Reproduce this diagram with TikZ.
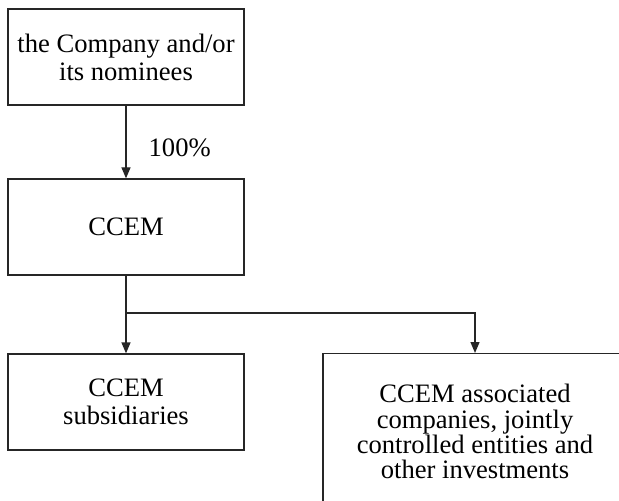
\documentclass[tikz,border=0pt]{standalone}
\usepackage{fontspec}
\setmainfont{Liberation Serif}
\usetikzlibrary{arrows.meta}

\begin{document}
\begin{tikzpicture}[x=0.5pt,y=0.5pt,yscale=-1,xscale=1,
		box/.style={draw=black!85, line width=0.65pt, minimum width=118pt, minimum height=48pt, align=center, inner sep=0pt, font=\fontsize{13.3}{14}\selectfont},
		link/.style={draw=black!85, line width=0.65pt},
		arr/.style={link, -{Triangle[length=5.5pt,width=4.5pt]}}]
			%set diagram to 619 x 501
			\clip (0,0) rectangle (619,501);
			
			%Shape: Rectangle [owner]
			\node[box] (owner) at (126,57) {the Company and/or\\its nominees};
			%Shape: Rectangle [ccem]
			\node[box] (ccem) at (126,227) {CCEM};
			%Shape: Rectangle [subs]
			\node[box] (subs) at (126,402) {CCEM\\subsidiaries};
			%Shape: Rectangle [assoc]
			\node[box, minimum width=152pt, minimum height=78pt, anchor=north, font=\fontsize{13.3}{12.7}\selectfont] (assoc) at (475,353) {CCEM associated\\companies, jointly\\controlled entities and\\other investments};
			
			%Straight Lines
			\draw[arr] (owner.south) -- node[pos=0.58, anchor=west, inner sep=0pt, xshift=11pt, font=\fontsize{13.3}{14}\selectfont] (pct) {100\%} (ccem.north);
			\coordinate (split) at (126,313);
			\draw[link] (ccem.south) -- (split);
			\draw[arr] (split) -- (subs.north);
			\draw[arr] (split) -| (assoc.north);
					
		\end{tikzpicture}
\end{document}
